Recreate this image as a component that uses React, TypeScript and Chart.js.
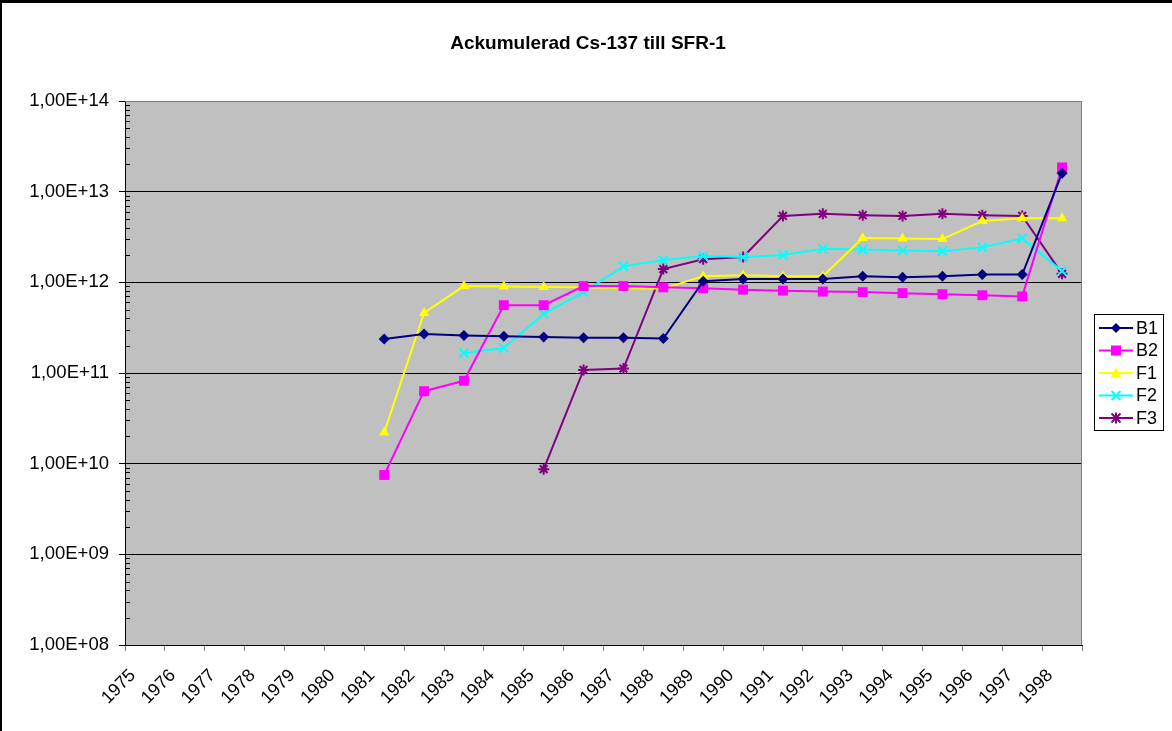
import { useEffect, useRef } from "react";
import { Chart, registerables } from "chart.js";

Chart.register(...registerables);

const FONT = "'Liberation Sans', Arial, sans-serif";

const years = [
  "1975", "1976", "1977", "1978", "1979", "1980", "1981", "1982",
  "1983", "1984", "1985", "1986", "1987", "1988", "1989", "1990",
  "1991", "1992", "1993", "1994", "1995", "1996", "1997", "1998",
];

// values from 1981
const b1Values = [2.37e11, 2.69e11, 2.6e11, 2.55e11, 2.5e11, 2.45e11, 2.45e11, 2.4e11, 1.03e12, 1.09e12, 1.09e12, 1.09e12, 1.17e12, 1.14e12, 1.17e12, 1.22e12, 1.22e12, 1.6e13];
const b2Values = [7.5e9, 6.3e10, 8.2e10, 5.6e11, 5.6e11, 9.1e11, 9.1e11, 8.8e11, 8.6e11, 8.3e11, 8.1e11, 7.9e11, 7.8e11, 7.6e11, 7.4e11, 7.2e11, 7.0e11, 1.85e13];
const f1Values = [2.2e10, 4.6e11, 9.1e11, 9.0e11, 8.9e11, 8.8e11, 8.6e11, 8.5e11, 1.17e12, 1.2e12, 1.17e12, 1.17e12, 3.08e12, 3.05e12, 3.0e12, 4.75e12, 5.1e12, 5.1e12];
// values from 1983
const f2Values = [1.66e11, 1.89e11, 4.5e11, 7.8e11, 1.5e12, 1.76e12, 1.95e12, 1.9e12, 2.0e12, 2.34e12, 2.3e12, 2.25e12, 2.2e12, 2.43e12, 3.05e12, 1.33e12];
// values from 1985
const f3Values = [8.7e9, 1.08e11, 1.12e11, 1.4e12, 1.8e12, 1.9e12, 5.4e12, 5.7e12, 5.5e12, 5.4e12, 5.7e12, 5.5e12, 5.4e12, 1.24e12];

const yTickValues = [1e8, 1e9, 1e10, 1e11, 1e12, 1e13, 1e14];

const seriesNames = ["B1", "B2", "F1", "F2", "F3"];
const seriesColors = ["#000080", "#FF00FF", "#FFFF00", "#00FFFF", "#800080"];
const seriesStart = ["1981", "1981", "1981", "1983", "1985"];
const seriesValues = [b1Values, b2Values, f1Values, f2Values, f3Values];
const seriesMarkers = ["diamond", "square", "triangle", "x", "star"];

const TITLE = "Ackumulerad Cs-137 till SFR-1";

function alignToYears(start: string, vals: number[]) {
  const idx = years.indexOf(start);
  return years.map((_, i) => (i >= idx && i - idx < vals.length ? vals[i - idx] : null));
}

function drawMarker(ctx: CanvasRenderingContext2D, kind: string, x: number, y: number, color: string) {
  ctx.save();
  ctx.fillStyle = color;
  ctx.strokeStyle = color;
  ctx.lineWidth = 2;
  ctx.beginPath();
  if (kind === "diamond") {
    const r = 5;
    ctx.moveTo(x - r, y);
    ctx.lineTo(x, y - r);
    ctx.lineTo(x + r, y);
    ctx.lineTo(x, y + r);
    ctx.closePath();
    ctx.fill();
  } else if (kind === "square") {
    ctx.rect(x - 5, y - 5, 10, 10);
    ctx.fill();
  } else if (kind === "triangle") {
    ctx.moveTo(x, y - 5.5);
    ctx.lineTo(x + 5.5, y + 4.5);
    ctx.lineTo(x - 5.5, y + 4.5);
    ctx.closePath();
    ctx.fill();
  } else if (kind === "x") {
    const r = 4.5;
    ctx.moveTo(x - r, y - r);
    ctx.lineTo(x + r, y + r);
    ctx.moveTo(x + r, y - r);
    ctx.lineTo(x - r, y + r);
    ctx.stroke();
  } else if (kind === "star") {
    const r = 4.5;
    ctx.moveTo(x - r, y - r);
    ctx.lineTo(x + r, y + r);
    ctx.moveTo(x + r, y - r);
    ctx.lineTo(x - r, y + r);
    ctx.moveTo(x, y - 5.5);
    ctx.lineTo(x, y + 5.5);
    ctx.stroke();
  }
  ctx.restore();
}

const decorPlugin = {
  id: "decor",
  beforeDraw(chart: any) {
    const { ctx, chartArea } = chart;
    ctx.save();
    ctx.fillStyle = "#FFFFFF";
    ctx.fillRect(0, 0, chart.width, chart.height);
    ctx.fillStyle = "#C0C0C0";
    ctx.fillRect(chartArea.left, chartArea.top, chartArea.right - chartArea.left, chartArea.bottom - chartArea.top);
    // outer frame (top and left)
    ctx.fillStyle = "#000000";
    ctx.fillRect(0, 0, chart.width, 3);
    ctx.fillRect(0, 0, 2, chart.height);
    // title
    ctx.fillStyle = "#000000";
    ctx.font = `bold 19px ${FONT}`;
    ctx.textAlign = "center";
    ctx.textBaseline = "alphabetic";
    ctx.fillText(TITLE, 588, 49);
    ctx.restore();
  },
  beforeDatasetsDraw(chart: any) {
    const { ctx, chartArea, scales } = chart;
    ctx.save();
    ctx.strokeStyle = "#808080";
    ctx.lineWidth = 1;
    ctx.beginPath();
    ctx.moveTo(chartArea.left, chartArea.top + 0.5);
    ctx.lineTo(chartArea.right - 0.5, chartArea.top + 0.5);
    ctx.lineTo(chartArea.right - 0.5, chartArea.bottom);
    ctx.stroke();
    // minor log ticks inside plot on y axis
    const y = scales.y;
    ctx.strokeStyle = "#000000";
    ctx.beginPath();
    for (let e = 8; e < 14; e++) {
      for (let m = 2; m <= 9; m++) {
        const py = Math.round(y.getPixelForValue(m * Math.pow(10, e))) + 0.5;
        ctx.moveTo(chartArea.left, py);
        ctx.lineTo(chartArea.left + 5, py);
      }
    }
    ctx.stroke();
    ctx.restore();
  },
  afterDraw(chart: any) {
    const { ctx } = chart;
    ctx.save();
    // legend box
    const bx = 1094, by = 314, bw = 69, bh = 116;
    ctx.fillStyle = "#FFFFFF";
    ctx.fillRect(bx, by, bw, bh);
    ctx.strokeStyle = "#000000";
    ctx.lineWidth = 1;
    ctx.strokeRect(bx + 0.5, by + 0.5, bw, bh);
    ctx.font = `18px ${FONT}`;
    ctx.textAlign = "left";
    ctx.textBaseline = "middle";
    seriesNames.forEach((name, i) => {
      const ry = by + 14 + i * 22.5;
      ctx.strokeStyle = seriesColors[i];
      ctx.lineWidth = 2;
      ctx.beginPath();
      ctx.moveTo(bx + 5, ry);
      ctx.lineTo(bx + 39, ry);
      ctx.stroke();
      drawMarker(ctx, seriesMarkers[i], bx + 22, ry, seriesColors[i]);
      ctx.fillStyle = "#000000";
      ctx.fillText(name, bx + 42, ry + 1);
    });
    ctx.restore();
  },
};

export default function App() {
  const canvasRef = useRef<HTMLCanvasElement | null>(null);

  useEffect(() => {
    if (!canvasRef.current) return;
    Chart.defaults.font.family = FONT;
    const pointStyles: any = {
      diamond: "rectRot",
      square: "rect",
      triangle: "triangle",
      x: "crossRot",
      star: "star",
    };
    const pointRadius: any = { diamond: 5.5, square: 7, triangle: 6, x: 6.4, star: 5.5 };
    const datasets = seriesNames.map((name, i) => {
      const mk = seriesMarkers[i];
      const filled = mk === "diamond" || mk === "square" || mk === "triangle";
      return {
        label: name,
        data: alignToYears(seriesStart[i], seriesValues[i]),
        borderColor: seriesColors[i],
        backgroundColor: seriesColors[i],
        borderWidth: 2,
        pointStyle: pointStyles[mk],
        pointRadius: pointRadius[mk],
        pointBorderWidth: filled ? 0 : 2,
        pointBackgroundColor: seriesColors[i],
        pointBorderColor: seriesColors[i],
        spanGaps: false,
        tension: 0,
      };
    });

    const chart = new Chart(canvasRef.current, {
      type: "line",
      data: { labels: years, datasets },
      options: {
        animation: false,
        responsive: false,
        devicePixelRatio: 1,
        layout: { padding: { top: 101, right: 90, left: 0, bottom: 0 } },
        plugins: {
          legend: { display: false },
          title: { display: false },
          tooltip: { enabled: false },
        },
        scales: {
          x: {
            type: "category",
            offset: true,
            grid: {
              offset: true,
              drawOnChartArea: false,
              drawTicks: true,
              tickLength: 6,
              tickColor: "#808080",
            },
            border: { display: true, color: "#000000", width: 1 },
            ticks: {
              autoSkip: false,
              minRotation: 45,
              maxRotation: 45,
              labelOffset: -12,
              padding: 14,
              color: "#000000",
              font: { size: 18, family: FONT },
            },
            afterFit: (scale: any) => {
              scale.height = 86;
            },
          },
          y: {
            type: "logarithmic",
            min: 1e8,
            max: 1e14,
            afterBuildTicks: (scale: any) => {
              scale.ticks = yTickValues.map((v) => ({ value: v, major: true }));
            },
            grid: {
              color: (c: any) => (c.tick && c.tick.value === 1e14 ? "#808080" : "#000000"),
              lineWidth: 1,
              drawTicks: true,
              tickLength: 6,
              tickColor: "#000000",
            },
            border: { display: true, color: "#000000", width: 1 },
            ticks: {
              padding: 10,
              color: "#000000",
              font: { size: 18.5, family: FONT },
              callback: (v: any) => "1,00E+" + String(Math.round(Math.log10(Number(v)))).padStart(2, "0"),
            },
            afterFit: (scale: any) => {
              scale.width = 125;
            },
          },
        },
      },
      plugins: [decorPlugin],
    } as any);

    return () => {
      chart.destroy();
    };
  }, []);

  return (
    <div style={{ position: "absolute", left: 0, top: 0, width: 1172, height: 731 }}>
      <canvas ref={canvasRef} width={1172} height={731} style={{ width: 1172, height: 731, display: "block" }} />
    </div>
  );
}
